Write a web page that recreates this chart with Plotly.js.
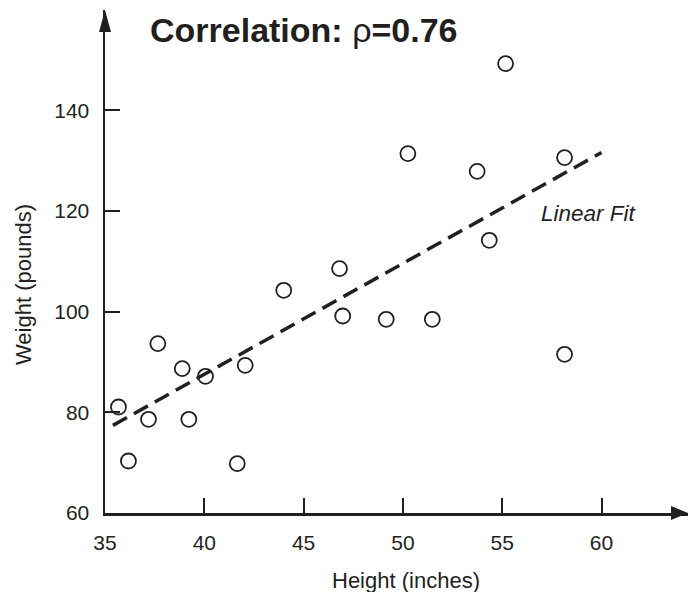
<!DOCTYPE html>
<html>
<head>
<meta charset="utf-8">
<script src="https://cdn.plot.ly/plotly-3.0.1.min.js"></script>
<style>html,body{margin:0;padding:0;background:#fff;}#chart{width:688px;height:592px;}</style>
</head>
<body>
<div id="chart"></div>
<script>
// Data
const heights = [35.68, 36.18, 37.19, 37.66, 38.89, 39.22, 40.06, 41.66, 42.06, 44.00,
                 46.81, 46.97, 49.16, 50.25, 51.48, 53.74, 54.35, 55.17, 58.14, 58.14];
const weights = [81.05, 70.33, 78.61, 93.64, 88.68, 78.61, 87.15, 69.81, 89.33, 104.23,
                 108.54, 99.13, 98.47, 131.38, 98.47, 127.86, 114.16, 149.26, 130.59, 91.52];
const fitX = [35.4, 60.0];
const fitY = [77.4, 131.6];
const xTicks = [35, 40, 45, 50, 55, 60];
const yTicks = [60, 80, 100, 120, 140];
const titleText = "<b>Correlation:</b> ρ<b>=0.76</b>";
const xTitle = "Height (inches)";
const yTitle = "Weight (pounds)";
const fitLabel = "Linear Fit";

const ink = '#231F20';
const fontFam = '"Liberation Sans", Arial, Helvetica, sans-serif';

const traces = [
  {
    x: fitX, y: fitY, type: 'scatter', mode: 'lines',
    line: {color: ink, width: 3.5, dash: '16px,8px'},
    hoverinfo: 'skip', showlegend: false
  },
  {
    x: heights, y: weights, type: 'scatter', mode: 'markers',
    marker: {symbol: 'circle-open', size: 15, color: ink, line: {width: 1.8, color: ink}},
    cliponaxis: false, showlegend: false
  }
];

const L = 105, R = 0, T = 10, B = 79;
const plotW = 688 - L - R, plotH = 592 - T - B;
const xPerUnit = 19.86, yPerUnit = 5.035;

const layout = {
  width: 688, height: 592,
  margin: {l: L, r: R, t: T, b: B, pad: 0},
  paper_bgcolor: '#ffffff', plot_bgcolor: '#ffffff',
  font: {family: fontFam, color: ink},
  showlegend: false,
  title: {
    text: titleText,
    font: {family: fontFam, size: 34, color: ink},
    x: 150 / 688, xref: 'container', xanchor: 'left',
    y: 1 - 30 / 592, yref: 'container', yanchor: 'middle'
  },
  xaxis: {
    range: [35, 35 + plotW / xPerUnit],
    tickvals: xTicks,
    showline: true, linewidth: 2.5, linecolor: ink,
    ticks: 'inside', ticklen: 15, tickwidth: 2, tickcolor: ink,
    showgrid: false, zeroline: false,
    tickfont: {family: fontFam, size: 21, color: ink},
    ticklabelstandoff: 9,
    fixedrange: true
  },
  yaxis: {
    range: [60, 60 + plotH / yPerUnit],
    tickvals: yTicks,
    showline: true, linewidth: 2.5, linecolor: ink,
    ticks: 'inside', ticklen: 15, tickwidth: 2, tickcolor: ink,
    showgrid: false, zeroline: false,
    tickfont: {family: fontFam, size: 21, color: ink},
    ticklabelstandoff: 9,
    fixedrange: true
  },
  annotations: [
    {
      text: xTitle, xref: 'paper', yref: 'paper',
      x: (406 - L) / plotW, y: -(580 - (592 - B)) / plotH,
      xanchor: 'center', yanchor: 'middle', showarrow: false,
      font: {family: fontFam, size: 22, color: ink}
    },
    {
      text: yTitle, xref: 'paper', yref: 'paper',
      x: (23 - L) / plotW, y: ((592 - B) - 285) / plotH,
      xanchor: 'center', yanchor: 'middle', showarrow: false, textangle: -90,
      font: {family: fontFam, size: 22, color: ink}
    },
    {
      text: '<i>' + fitLabel + '</i>', xref: 'paper', yref: 'paper',
      x: (539 - L) / plotW, y: ((592 - B) - 214) / plotH,
      xanchor: 'left', yanchor: 'middle', showarrow: false,
      font: {family: fontFam, size: 22.5, color: ink}
    }
  ],
  shapes: [
    {
      type: 'path', xref: 'paper', yref: 'paper',
      xsizemode: 'pixel', ysizemode: 'pixel', xanchor: 1, yanchor: 0,
      path: 'M0,0 L-17,7 L-17,-7 Z',
      fillcolor: ink, line: {width: 0}, layer: 'above'
    },
    {
      type: 'path', xref: 'paper', yref: 'paper',
      xsizemode: 'pixel', ysizemode: 'pixel', xanchor: 0, yanchor: 1,
      path: 'M0,0 L-6,-22 L6,-22 Z',
      fillcolor: ink, line: {width: 0}, layer: 'above'
    }
  ]
};

Plotly.newPlot('chart', traces, layout, {displayModeBar: false, staticPlot: true});
</script>
</body>
</html>
